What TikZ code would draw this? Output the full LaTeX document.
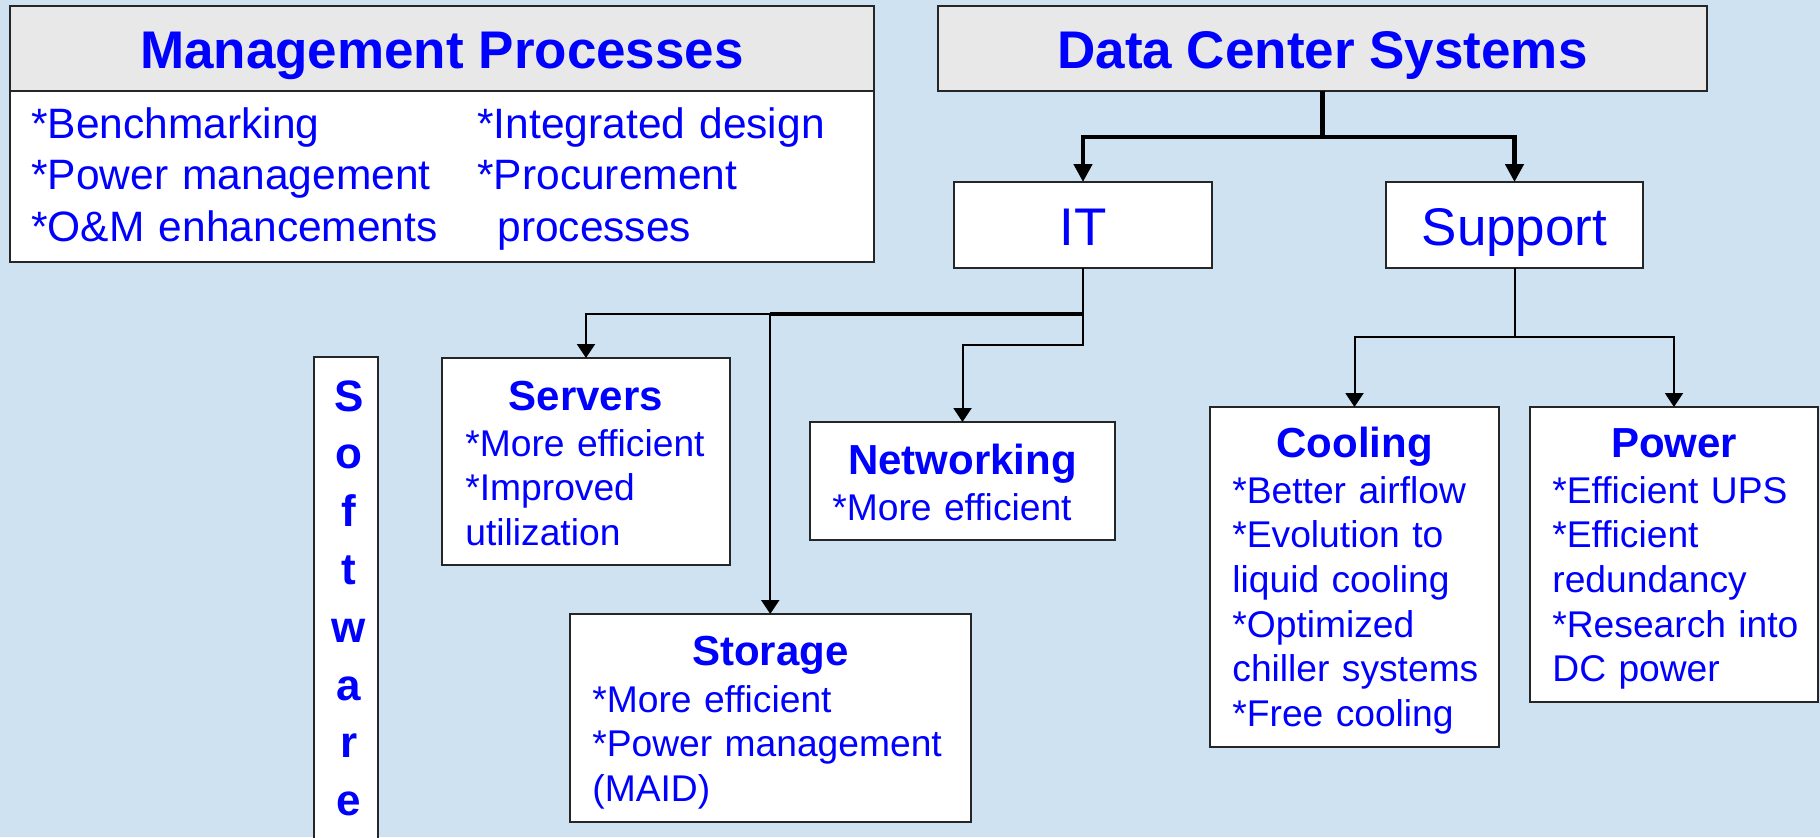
\documentclass[tikz,border=0pt]{standalone}
\usepackage{fontspec}
\setmainfont{Liberation Sans}
\usetikzlibrary{arrows.meta,calc}
\definecolor{bg}{RGB}{207,226,242}
\definecolor{hdr}{RGB}{232,232,232}
\definecolor{txt}{RGB}{0,0,255}
\newcommand{\nl}{\\\relax}
\begin{document}
\begin{tikzpicture}[x=0.5pt,y=-0.5pt,
  box/.style={draw=black!85,line width=1pt,fill=white,inner sep=0pt,outer sep=0pt},
  hbox/.style={box,fill=hdr},
  hd/.style={text=txt,inner sep=0pt,font=\fontsize{26.5}{32}\selectfont\bfseries},
  big/.style={text=txt,inner sep=0pt,font=\fontsize{26.5}{32}\selectfont},
  mbody/.style={text=txt,inner sep=0pt,anchor=base west,text width=220pt,align=left,font=\fontsize{21.25}{25.75}\selectfont},
  ttl/.style={text=txt,inner sep=0pt,anchor=base,font=\fontsize{21}{25}\selectfont\bfseries},
  body/.style={text=txt,inner sep=0pt,anchor=base west,text width=150pt,align=left,font=\fontsize{18.6}{22.35}\selectfont},
  bigarrow/.style={line width=2.3pt,line join=miter,-{Triangle[width=9pt,length=9pt]}},
  arr/.style={line width=1pt,line join=miter,-{Triangle[width=9pt,length=7pt]}}]
\useasboundingbox (0,0) rectangle (1820,837);
\fill[bg] (0,0) rectangle (1820,837);
\begin{scope}
\clip (0,0) rectangle (1820,837);
% boxes
\node[box,minimum width=432pt,minimum height=128pt] (mgmt) at (442,134) {};
\node[hbox,minimum width=432pt,minimum height=42.5pt] (mgmthead) at (442,48.5) {};
\node[hbox,minimum width=384.5pt,minimum height=42.5pt] (dcs) at (1322.5,48.5) {};
\node[box,minimum width=129pt,minimum height=43pt] (it) at (1083,225) {};
\node[box,minimum width=128.5pt,minimum height=43pt] (support) at (1514.5,225) {};
\node[box,minimum width=32pt,minimum height=251.5pt] (software) at (346,608.5) {};
\node[box,minimum width=144pt,minimum height=103.5pt] (servers) at (586,461.5) {};
\node[box,minimum width=152.5pt,minimum height=59pt] (networking) at (962.5,481) {};
\node[box,minimum width=200.25pt,minimum height=104pt] (storage) at (770.25,718) {};
\node[box,minimum width=144.5pt,minimum height=170pt] (cooling) at (1354.5,577) {};
\node[box,minimum width=144pt,minimum height=147.5pt] (power) at (1674,554.5) {};
\end{scope}
% connectors
\draw[bigarrow] (dcs.south) -- ++(0,46) -| (it.north);
\draw[bigarrow] (dcs.south) -- ++(0,46) -| (support.north);
\coordinate (itbus) at ($(it.south)+(0,46)$);
\draw[arr] (it.south) -- (itbus) -| (servers.north);
\draw[line width=1.7pt] (itbus) -- (storage.north |- itbus);
\draw[arr] (storage.north |- itbus) -- (storage.north);
\draw[arr] (it.south) -- ++(0,77) -| (networking.north);
\coordinate (supbus) at ($(support.south)+(0,69)$);
\draw[arr] (support.south) -- (supbus) -| (cooling.north);
\draw[arr] (supbus) -| (power.north);
% texts
\node[hd,anchor=base] (mgmtT) at (442,68) {Management Processes};
\node[hd,anchor=base] (dcsT) at (1322.5,68) {Data Center Systems};
\node[big,anchor=base] (itT) at (1083,245) {IT};
\node[big,anchor=base] (supT) at (1514.5,245) {Support};
\node[mbody] (mgmtL) at (31,138) {*Benchmarking\nl *Power management\nl *O\&M enhancements};
\node[mbody] (mgmtR) at (477,138) {*Integrated design\nl *Procurement\nl \hspace*{10pt}processes};
\node[ttl] (serversT) at (586,410) {Servers};
\node[body] (serversB) at (465,456) {*More efficient\nl *Improved\nl utilization};
\node[ttl] (networkingT) at (962.5,474) {Networking};
\node[body] (networkingB) at (832,520) {*More efficient};
\node[ttl] (storageT) at (770.25,665) {Storage};
\node[body,text width=200pt] (storageB) at (592,712) {*More efficient\nl *Power management\nl (MAID)};
\node[ttl] (coolingT) at (1354.5,457) {Cooling};
\node[body] (coolingB) at (1232,503) {*Better airflow\nl *Evolution to\nl liquid cooling\nl *Optimized\nl chiller systems\nl *Free cooling};
\node[ttl] (powerT) at (1674,457) {Power};
\node[body] (powerB) at (1552,503) {*Efficient UPS\nl *Efficient\nl redundancy\nl *Research into\nl DC power};
\node[text=txt,inner sep=0pt,anchor=base,text width=30pt,align=center,font=\fontsize{22}{28.9}\selectfont\bfseries] (softwareT) at (349,411) {S\\o\\f\\t\\w\\a\\r\\e};
\end{tikzpicture}
\end{document}
